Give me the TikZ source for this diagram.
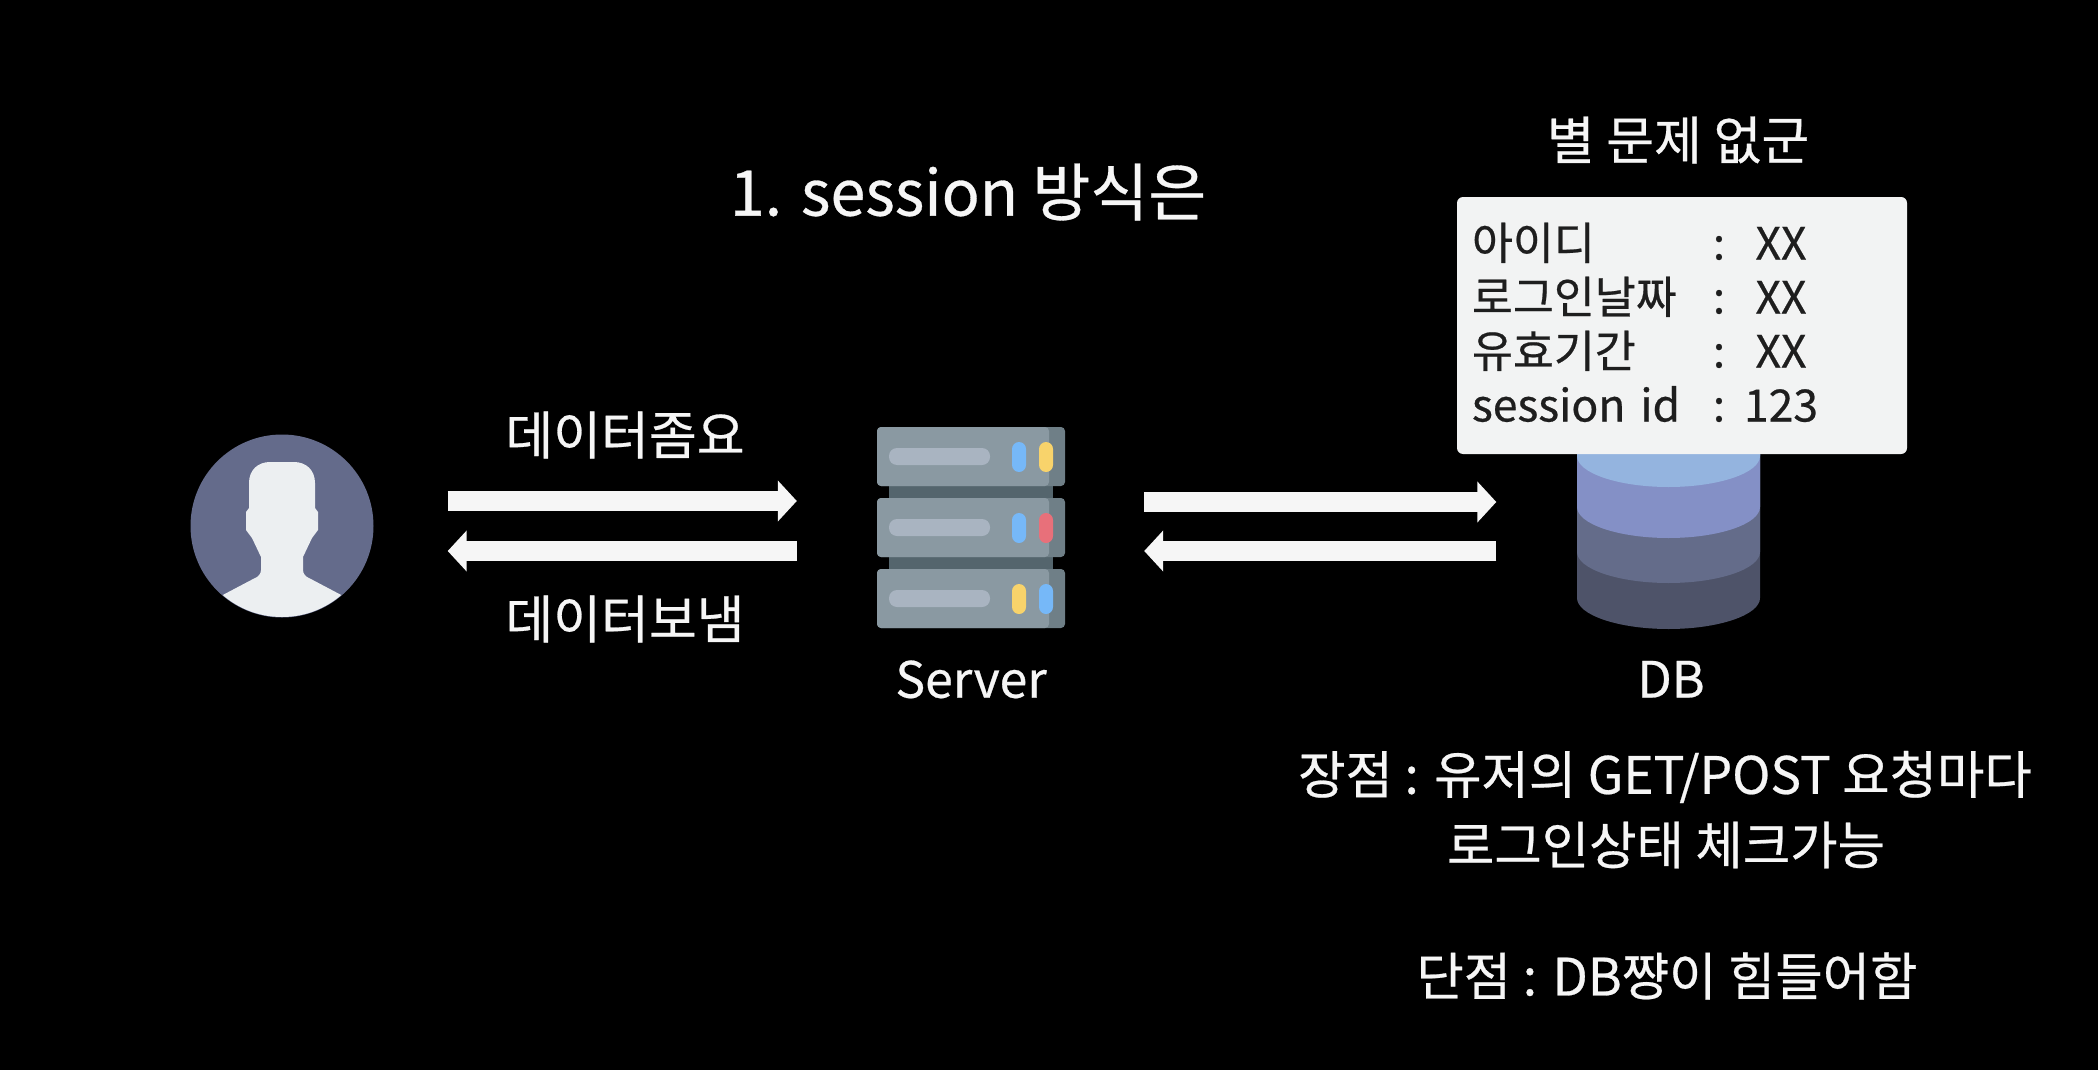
\documentclass[tikz,border=0pt]{standalone}
\usepackage{fontspec}
\setmainfont[FakeBold=0.5]{Noto Sans CJK KR}
\usetikzlibrary{matrix,positioning,arrows.meta}

\definecolor{paper}{HTML}{000000}
\definecolor{ink}{HTML}{F6F6F6}
\definecolor{avatar}{HTML}{646B8B}
\definecolor{face}{HTML}{ECEFF1}
\definecolor{rackbody}{HTML}{8A99A2}
\definecolor{rackside}{HTML}{6F7F87}
\definecolor{rackback}{HTML}{54656D}
\definecolor{rackbar}{HTML}{A9B4C1}
\definecolor{ledblue}{HTML}{76B8F8}
\definecolor{ledyellow}{HTML}{F8D36B}
\definecolor{ledred}{HTML}{E8707A}
\definecolor{cardbg}{HTML}{F2F3F3}
\definecolor{cardink}{HTML}{1E1E1E}
\definecolor{dba}{HTML}{94B4DF}
\definecolor{dbb}{HTML}{8490C6}
\definecolor{dbc}{HTML}{646C8A}
\definecolor{dbd}{HTML}{4E5369}

\begin{document}
\begin{tikzpicture}[
    x=1pt, y=-1pt,
    txt/.style={text=ink, inner sep=0pt, font=\fontsize{#1}{#1}\selectfont},
    txt/.default=52,
    fat/.style={draw=ink, line width=20pt, -{Triangle[length=19pt,width=40pt]}},
    gap/.style 2 args={shorten <=#1, shorten >=#2},
    card/.style={matrix of nodes, inner sep=0pt,
        nodes={inner sep=0pt, text=cardink, text height=38pt, text depth=16pt,
            font=\fontsize{44.5}{44.5}\selectfont},
        column 1/.style={nodes={text width=230pt, align=left}},
        column 2/.style={nodes={text width=34pt, align=center}},
        column 3/.style={nodes={text width=90pt, align=center}}}
]
    \fill[paper] (0,0) rectangle (2098,1070);
    \useasboundingbox (0,0) rectangle (2098,1070);

    \node[txt=63] (title) at (968,192) {1. session 방식은};

    % user
    \node[circle, fill=avatar, minimum size=183pt, inner sep=0pt] (user) at (282,526) {};
    \begin{scope}
        \clip (282,526) circle[radius=91pt];
        \fill[face] (249,483) .. controls (249,470) and (258,462) .. (270,462) -- (294,462)
            .. controls (306,462) and (315,470) .. (315,483) -- (315,508) -- (318,512)
            -- (318,530) -- (312,538) -- (303,557) -- (303,570)
            .. controls (303,574) and (306,577) .. (309,578) -- (345,597) -- (345,640)
            -- (219,640) -- (219,597) -- (255,578)
            .. controls (258,577) and (261,574) .. (261,570) -- (261,557)
            -- (252,538) -- (246,530) -- (246,512) -- (249,508) -- cycle;
    \end{scope}

    % server
    \node[minimum width=188pt, minimum height=202pt, inner sep=0pt] (server) at (971,528) {};
    \fill[rackback] (889,480) rectangle (1053,575);
    \foreach \y/\ledl/\ledr in {427/ledblue/ledyellow, 498/ledblue/ledred, 569/ledyellow/ledblue} {
        \fill[rackside, rounded corners=4pt] (877,\y) rectangle (1065,\y+59);
        \fill[rackbody, rounded corners=4pt] (1049,\y) -- (877,\y) -- (877,\y+59) -- (1049,\y+59) -- cycle;
        \fill[rackbar, rounded corners=8pt] (889,\y+21) rectangle (990,\y+38);
        \fill[\ledl, rounded corners=7pt] (1012,\y+15) rectangle (1026,\y+45);
        \fill[\ledr, rounded corners=7pt] (1039,\y+15) rectangle (1053,\y+45);
    }
    \node[txt=50, below=31pt of server] (serverlabel) {Server};

    % db
    \node[minimum width=183pt, minimum height=189pt, inner sep=0pt] (db) at (1671,535) {};
    \foreach \y/\colr in {598/dbd, 552/dbc, 507/dbb, 456/dba} {
        \fill[\colr] (1577,440) -- (1577,\y) .. controls +(0,17) and +(-50,0) .. ++(91.5,31)
            .. controls +(50,0) and +(0,17) .. ++(91.5,-31) -- (1760,440) -- cycle;
    }
    \node[txt=50, below=31pt of db] (dblabel) {DB};

    % card
    \node[fill=cardbg, rounded corners=6pt, minimum width=450pt, minimum height=257pt, inner sep=0pt] (box) at (1682,325.5) {};
    \matrix (info) [card] at (1649,329.5) {
        아이디 & : & XX \\
        로그인날짜 & : & XX \\
        유효기간 & : & XX \\
        session id & : & 123 \\
    };
    \node[txt, above=33pt of box, xshift=-4pt] (remark) {별 문제 없군};

    \draw[fat, gap={74pt}{80pt}] ([yshift=25pt]user.east) -- ([yshift=27pt]server.west);
    \draw[fat, gap={80pt}{74pt}] ([yshift=-23pt]server.west) -- ([yshift=-25pt]user.east);
    \draw[fat, gap={79pt}{83pt}] ([yshift=26pt]server.east) -- ([yshift=33pt]db.west);
    \draw[fat, gap={83pt}{79pt}] ([yshift=-16pt]db.west) -- ([yshift=-23pt]server.east);

    \node[txt] at (625,435) (ask) {데이터좀요};
    \node[txt] at (625,619) (reply) {데이터보냄};

    \node[txt=51.5] at (1665,777) (pro) {장점 : 유저의 GET/POST 요청마다};
    \node[txt=51.5] at (1666,845) (proline) {로그인상태 체크가능};
    \node[txt=51.5] at (1667,976) (con) {단점 : DB쨩이 힘들어함};
\end{tikzpicture}
\end{document}
